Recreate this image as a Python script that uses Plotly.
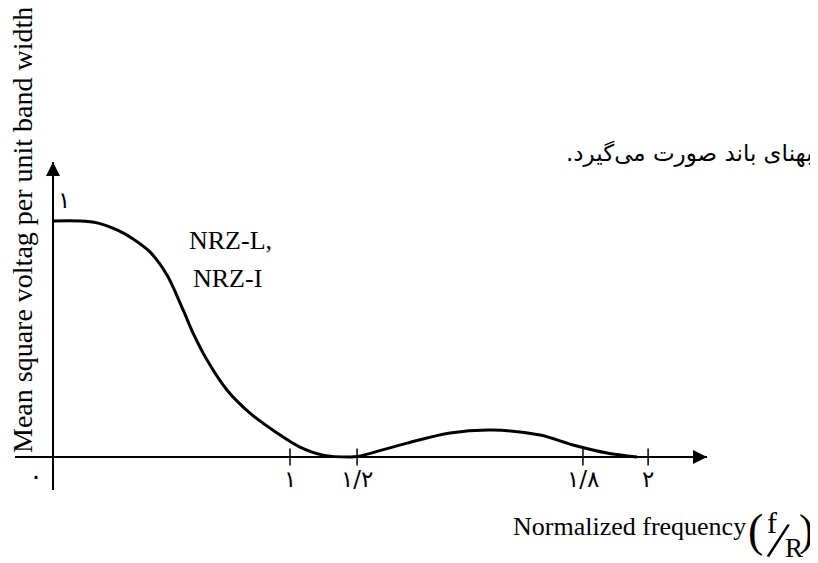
import plotly.graph_objects as go

# ---- data (x in drawn units: distance 0 -> tick "1" = 1) ----
curve_x = [0.0, 0.114, 0.186, 0.270, 0.338, 0.409, 0.481, 0.549, 0.591, 0.650,
           0.734, 0.831, 0.945, 1.042, 1.139, 1.253, 1.283, 1.494, 1.675, 1.857,
           2.055, 2.194, 2.338, 2.464]
curve_y = [1.0, 1.0, 0.992, 0.962, 0.924, 0.869, 0.771, 0.623, 0.525, 0.411,
           0.284, 0.186, 0.102, 0.042, 0.008, 0.0, 0.002, 0.059, 0.102, 0.114,
           0.093, 0.051, 0.017, 0.0]
tick_pos = [1.0, 1.283, 2.236, 2.511]
tick_labels = ["۱", "۱/۲", "۱/۸", "۲"]
origin_label = "۰"
y_label_one = "۱"
series_label = ["NRZ-L,", "NRZ-I"]
y_title = "Mean square voltag per unit band width"
x_title = "Normalized frequency"
persian_note = "بهنای باند صورت می‌گیرد.\u200f"

VW, VH = 818, 563       # browser viewport
OFF = 8                 # default page body margin
W, H = VW - OFF, VH - OFF
L, T = 15, 162          # page pixel of plot-area left / top
PW, PH = 692, 328       # plot-area size
X0PX, UX = 53, 237      # page pixel of x=0, pixels per unit
Y0PX, UY = 457, 236     # page pixel of y=0, pixels per unit

def px2x(px):
    return (px - X0PX) / UX

def py2y(py):
    return (Y0PX - py) / UY

xr = [px2x(L), px2x(L + PW)]
yr = [py2y(T + PH), py2y(T)]

serif = "Liberation Serif, Times New Roman, serif"
fa = "DejaVu Sans, sans-serif"

fig = go.Figure()
fig.add_trace(go.Scatter(x=curve_x, y=curve_y, mode="lines",
                         line=dict(color="black", width=3, shape="spline", smoothing=0.9),
                         hoverinfo="skip", showlegend=False))
fig.add_trace(go.Scatter(x=tick_pos, y=[0] * len(tick_pos), mode="markers",
                         marker=dict(symbol="line-ns", size=12,
                                     line=dict(color="black", width=1.5)),
                         hoverinfo="skip", showlegend=False))

def pxann(px, py, text, size, xanchor="center", family=serif, **kw):
    d = dict(xref="paper", x=(px - L) / PW, yref="paper",
             y=(T + PH - py) / PH, text=text, showarrow=False,
             xanchor=xanchor, yanchor="middle",
             font=dict(family=family, size=size, color="black"))
    d.update(kw)
    return d

ann = []
for p, t in zip(tick_pos, tick_labels):
    ann.append(dict(x=p, y=0, text=t, showarrow=False, yanchor="middle", yshift=-22,
                    font=dict(family=fa, size=23, color="black")))
ann.append(dict(x=0, y=0, text=origin_label, showarrow=False, xanchor="center",
                yanchor="middle", xshift=-17, yshift=-19,
                font=dict(family=fa, size=26, color="black")))
ann.append(dict(x=0, y=1, text=y_label_one, showarrow=False, xanchor="center",
                yanchor="middle", xshift=11, yshift=21,
                font=dict(family=fa, size=23, color="black")))
# arrowheads
ann.append(dict(xref="paper", x=1, yref="y", y=0, ax=-25, ay=0, showarrow=True,
                arrowhead=2, arrowsize=1.4, arrowwidth=2, arrowcolor="black", text=""))
ann.append(dict(xref="x", x=0, yref="paper", y=1, ax=0, ay=25, showarrow=True,
                arrowhead=2, arrowsize=1.4, arrowwidth=2, arrowcolor="black", text=""))
# series labels
ann.append(pxann(187, 240, series_label[0], 26, xanchor="left"))
ann.append(pxann(191, 278, series_label[1], 26, xanchor="left"))
# y title (rotated)
ann.append(pxann(22, 230, y_title, 28, textangle=-90))
# x title with (f/R)
ann.append(pxann(748, 526, x_title, 26, xanchor="right"))
ann.append(pxann(755, 530, "(", 46))
ann.append(pxann(772, 522, "f", 30))
ann.append(pxann(778, 540, "/", 54, textangle=14))
ann.append(pxann(794, 548, "R", 27))
ann.append(pxann(806, 530, ")", 44))
# persian note
ann.append(pxann(815, 153, persian_note, 23, xanchor="right", family=fa))

fig.update_layout(
    width=W, height=H,
    margin=dict(l=L - OFF, t=T - OFF, r=W - (L - OFF) - PW, b=H - (T - OFF) - PH),
    paper_bgcolor="white", plot_bgcolor="white",
    xaxis=dict(range=xr, showgrid=False, showticklabels=False, ticks="",
               zeroline=True, zerolinecolor="black", zerolinewidth=2, showline=False),
    yaxis=dict(range=yr, showgrid=False, showticklabels=False, ticks="",
               zeroline=True, zerolinecolor="black", zerolinewidth=2, showline=False),
    annotations=ann, showlegend=False,
)
fig.write_html("out.html")
